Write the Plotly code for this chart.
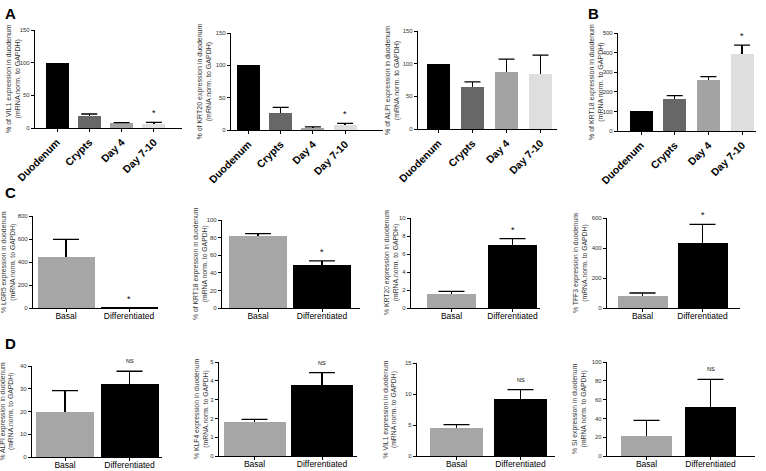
import plotly.graph_objects as go

W, H = 766, 471
FONT = "Liberation Sans, Arial, sans-serif"

# ---------------- data ----------------
cats_time = ["Duodenum", "Crypts", "Day 4", "Day 7-10"]
cats_diff = ["Basal", "Differentiated"]

vil1_time = [100, 19, 7, 6.5]
vil1_time_err = [0, 2.4, 1.3, 2.2]
krt20_time = [100, 26, 3.5, 7]
krt20_time_err = [0, 9, 1.2, 3.3]
alpi_time = [100, 65, 87, 84]
alpi_time_err = [0, 7, 20, 29]
krt18_time = [100, 161, 260, 393]
krt18_time_err = [0, 19, 17, 45]

lgr5_diff = [441, 2]
lgr5_diff_err = [156, 0]
krt18_diff = [82, 49]
krt18_diff_err = [2.5, 4.5]
krt20_diff = [1.6, 7.05]
krt20_diff_err = [0.25, 0.65]
tff3_diff = [78, 436]
tff3_diff_err = [22, 122]

alpi_diff = [19.7, 32.2]
alpi_diff_err = [9.5, 5.5]
klf4_diff = [1.82, 3.78]
klf4_diff_err = [0.13, 0.65]
vil1_diff = [4.45, 9.2]
vil1_diff_err = [0.6, 1.5]
si_diff = [21.3, 52.5]
si_diff_err = [16.5, 29]

marks_time_star = ["", "", "", "*"]
marks_time_none = ["", "", "", ""]
marks_diff_star = ["", "*"]
marks_diff_ns = ["", "NS"]

colors_time = ["#000000", "#676767", "#a3a3a3", "#dedede"]
colors_diff = ["#a6a6a6", "#000000"]

# (cats, means, errs, marks, ymax, dtick, ylabel, colors)
panels = [
    (cats_time, vil1_time, vil1_time_err, marks_time_star, 150, 50,
     "% of VIL1 expression in duodenum<br>(mRNA norm. to GAPDH)", colors_time),
    (cats_time, krt20_time, krt20_time_err, marks_time_star, 150, 50,
     "% of KRT20 expression in duodenum<br>(mRNA norm. to GAPDH)", colors_time),
    (cats_time, alpi_time, alpi_time_err, marks_time_none, 150, 50,
     "% of ALPI expression in duodenum<br>(mRNA norm. to GAPDH)", colors_time),
    (cats_time, krt18_time, krt18_time_err, marks_time_star, 500, 100,
     "% of KRT18 expression in duodenum<br>(mRNA norm. to GAPDH)", colors_time),
    (cats_diff, lgr5_diff, lgr5_diff_err, marks_diff_star, 800, 200,
     "% LGR5 expression in duodenum<br>(mRNA norm. to GAPDH)", colors_diff),
    (cats_diff, krt18_diff, krt18_diff_err, marks_diff_star, 100, 20,
     "% of KRT18 expression in duodenum<br>(mRNA norm. to GAPDH)", colors_diff),
    (cats_diff, krt20_diff, krt20_diff_err, marks_diff_star, 10, 2,
     "% KRT20 expression in duodenum<br>(mRNA.norm. to GAPDH)", colors_diff),
    (cats_diff, tff3_diff, tff3_diff_err, marks_diff_star, 600, 200,
     "% TFF3 expression in duodenum<br>(mRNA.norm. to GAPDH)", colors_diff),
    (cats_diff, alpi_diff, alpi_diff_err, marks_diff_ns, 40, 10,
     "% ALPI expression in duodenum<br>(mRNA.norm. to GAPDH)", colors_diff),
    (cats_diff, klf4_diff, klf4_diff_err, marks_diff_ns, 5, 1,
     "% KLF4 expression in duodenum<br>(mRNA.norm. to GAPDH)", colors_diff),
    (cats_diff, vil1_diff, vil1_diff_err, marks_diff_ns, 15, 5,
     "% VIL1 expression in duodenum<br>(mRNA norm. to GAPDH)", colors_diff),
    (cats_diff, si_diff, si_diff_err, marks_diff_ns, 100, 20,
     "% SI expression in duodenum<br>(mRNA norm. to GAPDH)", colors_diff),
]

# geometry in pixels: axis_x0, axis_x1, y_top, y_zero, first_center, spacing, bar_width, title_offset
geoms = [
    (35, 182, 30, 128, 57, 32.3, 23, 21),
    (231, 383, 33, 130, 248.5, 32.2, 23, 27),
    (418, 557, 31, 129, 438.5, 34.0, 23, 25),
    (618, 756, 33, 131, 641, 33.7, 23, 21),
    (33, 158, 216, 308, 66, 63, 57, 25),
    (222, 360, 220, 308, 258, 64, 58, 22),
    (411, 540, 218, 308, 451.5, 61, 49, 20),
    (607, 740, 218, 308, 642.5, 60, 50, 27),
    (32, 162, 366, 457, 65, 64.5, 58, 25),
    (219, 357, 362, 456, 254.5, 67.5, 62, 18),
    (417, 555, 363, 456, 456.5, 64, 53, 27),
    (607, 755, 362, 456, 646.5, 64, 51, 28),
]

fig = go.Figure()
annotations = []

for i, (p, g) in enumerate(zip(panels, geoms)):
    cats, means, errs, marks, ymax, dtick, ylabel, colors = p
    x0, x1, ytop, yzero, c0, s, bw, toff = g
    n = i + 1
    xa = "x" if n == 1 else f"x{n}"
    ya = "y" if n == 1 else f"y{n}"
    is_time = len(cats) == 4
    # bars with upward error stems (no caps)
    fig.add_trace(go.Bar(
        x=cats, y=means, xaxis=xa, yaxis=ya,
        marker=dict(color=colors, line=dict(width=0)),
        width=bw / s,
        error_y=dict(type="data", symmetric=False, array=errs,
                     arrayminus=[0] * len(errs), color="black",
                     thickness=1.3, width=0),
        showlegend=False, hoverinfo="skip",
    ))
    # caps at top of the error stems
    cap_x = [c for c, e in zip(cats, errs) if e > 0]
    cap_y = [m + e for m, e in zip(means, errs) if e > 0]
    fig.add_trace(go.Scatter(
        x=cap_x, y=cap_y, xaxis=xa, yaxis=ya, mode="markers",
        marker=dict(size=1, color="rgba(0,0,0,0)"),
        error_y=dict(type="constant", value=0, color="black",
                     thickness=1.3, width=8 if is_time else 13),
        showlegend=False, hoverinfo="skip",
    ))
    xkey = "xaxis" if n == 1 else f"xaxis{n}"
    ykey = "yaxis" if n == 1 else f"yaxis{n}"
    fig.layout[xkey] = dict(
        domain=[x0 / W, x1 / W],
        anchor=ya, type="category", categoryorder="array", categoryarray=cats,
        range=[(x0 - c0) / s, (x1 - c0) / s],
        showline=True, linecolor="black", linewidth=1.3,
        ticks="outside", ticklen=3, tickwidth=1, tickcolor="black",
        showgrid=False, zeroline=False, fixedrange=True, automargin=False,
        tickangle=-45 if is_time else 0,
        ticklabelstandoff=0 if is_time else -3,
        tickfont=dict(family=FONT, size=10.5 if is_time else 8.5, color="black",
                      weight="bold" if is_time else "normal"),
    )
    fig.layout[ykey] = dict(
        domain=[1 - yzero / H, 1 - ytop / H],
        anchor=xa, range=[0, ymax], dtick=dtick, tick0=0,
        showline=True, linecolor="black", linewidth=1.3,
        ticks="outside", ticklen=3, tickwidth=1, tickcolor="black",
        showgrid=False, zeroline=False, fixedrange=True, automargin=False,
        tickfont=dict(family=FONT, size=6, color="#333"),
    )
    # y-axis title
    annotations.append(dict(
        text=ylabel, textangle=-90, xref="paper", yref="paper",
        x=(x0 - toff) / W, y=1 - (ytop + yzero) / 2 / H,
        xanchor="center", yanchor="middle", showarrow=False,
        font=dict(family=FONT, size=7 if is_time else 6.8, color="#333"),
    ))
    # significance marks
    for c, m, e, mk in zip(cats, means, errs, marks):
        if mk:
            annotations.append(dict(
                text=mk, x=c, y=m + e, xref=xa, yref=ya,
                xanchor="center", yanchor="bottom", showarrow=False,
                yshift=2 if mk == "*" else 5,
                font=dict(family=FONT, size=9 if mk == "*" else 5.5, color="black"),
            ))

for letter, px, py in [("A", 3, 3), ("B", 586, 3), ("C", 3, 182), ("D", 3, 333)]:
    annotations.append(dict(
        text=f"<b>{letter}</b>", xref="paper", yref="paper",
        x=px / W, y=1 - py / H, xanchor="left", yanchor="top", showarrow=False,
        font=dict(family=FONT, size=15, color="black"),
    ))

fig.update_layout(
    width=W, height=H,
    margin=dict(l=0, r=0, t=0, b=0, pad=0, autoexpand=False),
    paper_bgcolor="white", plot_bgcolor="white",
    annotations=annotations, bargap=0,
    font=dict(family=FONT),
)

fig.write_html(
    "out.html",
    config={"displayModeBar": False},
    post_script="document.body.style.margin='0';document.body.style.padding='0';"
                "document.documentElement.style.overflow='hidden';",
)
